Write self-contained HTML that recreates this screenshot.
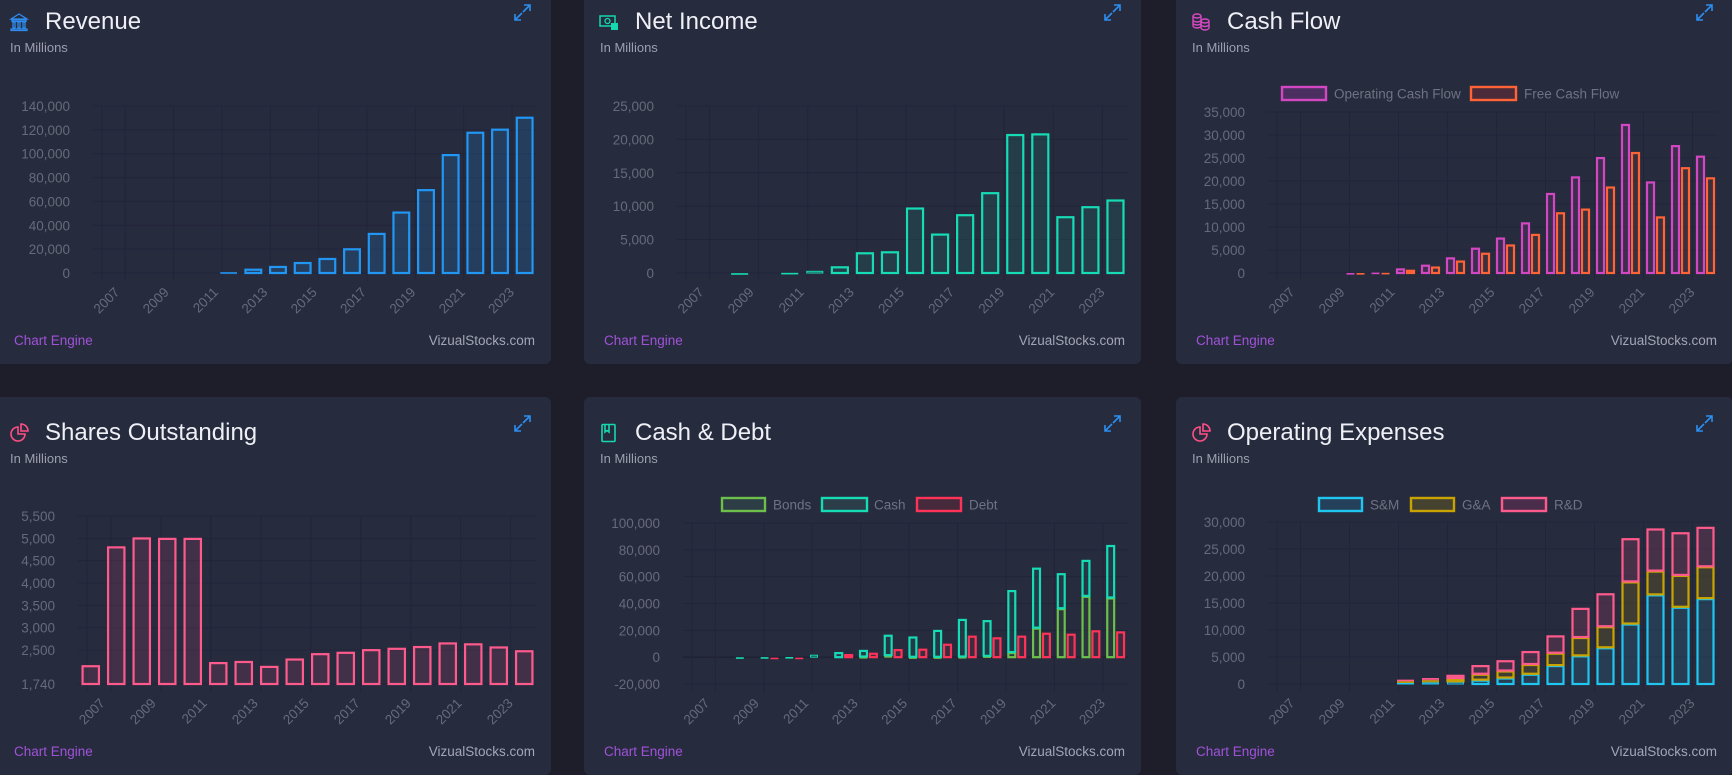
<!DOCTYPE html>
<html><head><meta charset="utf-8">
<style>
html,body{margin:0;padding:0;}
body{width:1732px;height:772px;background:#1d1e29;position:relative;overflow:hidden;font-family:"Liberation Sans",sans-serif;}
.card{position:absolute;width:557px;height:378px;background:#272b3e;border-radius:6px;overflow:hidden;}
.card svg.chart{position:absolute;left:0;top:0;}
.title{position:absolute;left:51px;top:21px;font-size:24px;color:#eef0f6;line-height:30px;white-space:nowrap;}
.sub{position:absolute;left:16px;top:54px;font-size:13px;color:#9c9fae;}
.card svg.icon{position:absolute;left:15px;top:26px;width:20px;height:20px;}
.card svg.exp{position:absolute;left:520px;top:18px;width:17px;height:17px;z-index:2;}
.fl{position:absolute;left:20px;top:347px;font-size:13.5px;color:#a052d8;}
.fr{position:absolute;right:16px;top:347px;font-size:13.5px;color:#a3a6b6;}
</style></head>
<body>

<div class="card" style="left:-6px;top:-14px">
  <svg class="icon" viewBox="0 0 20 20"><path d="M2 7 L10 2 L18 7 Z M3 8h14v1.5H3z M4 10h2v6H4z M9 10h2v6H9z M14 10h2v6h-2z M2 17h16v1.5H2z" fill="none" stroke="#2f8cf0" stroke-width="1.3"/></svg>
  <div class="title">Revenue</div>
  <div class="sub">In Millions</div>
  <svg class="exp" viewBox="0 0 17 17"><path d="M10 1h6v6M16 1L9 8M7 16H1v-6M1 16l7-7" fill="none" stroke="#2b8ef0" stroke-width="1.6"/></svg>
  <svg id="c1" class="chart" width="557" height="378"></svg>
  <div class="fl">Chart Engine</div>
  <div class="fr">VizualStocks.com</div>
</div>

<div class="card" style="left:584px;top:-14px">
  <svg class="icon" viewBox="0 0 20 20"><rect x="1" y="4" width="15" height="10" fill="none" stroke="#14d8b0" stroke-width="1.5"/><circle cx="8.5" cy="9" r="2.5" fill="none" stroke="#14d8b0" stroke-width="1.3"/><rect x="12" y="11" width="7" height="7" fill="#14d8b0"/></svg>
  <div class="title">Net Income</div>
  <div class="sub">In Millions</div>
  <svg class="exp" viewBox="0 0 17 17"><path d="M10 1h6v6M16 1L9 8M7 16H1v-6M1 16l7-7" fill="none" stroke="#2b8ef0" stroke-width="1.6"/></svg>
  <svg id="c2" class="chart" width="557" height="378"></svg>
  <div class="fl">Chart Engine</div>
  <div class="fr">VizualStocks.com</div>
</div>

<div class="card" style="left:1176px;top:-14px">
  <svg class="icon" viewBox="0 0 20 20"><g fill="none" stroke="#d649c0" stroke-width="1.4"><ellipse cx="6" cy="4" rx="4" ry="2"/><path d="M2 4v10c0 1 2 2 4 2s4-1 4-2V4M2 8c0 1 2 2 4 2s4-1 4-2M2 11c0 1 2 2 4 2s4-1 4-2"/><ellipse cx="14" cy="9" rx="4" ry="2"/><path d="M10 9v7c0 1 2 2 4 2s4-1 4-2V9M10 12.5c0 1 2 2 4 2s4-1 4-2"/></g></svg>
  <div class="title">Cash Flow</div>
  <div class="sub">In Millions</div>
  <svg class="exp" viewBox="0 0 17 17"><path d="M10 1h6v6M16 1L9 8M7 16H1v-6M1 16l7-7" fill="none" stroke="#2b8ef0" stroke-width="1.6"/></svg>
  <svg id="c3" class="chart" width="557" height="378"></svg>
  <div class="fl">Chart Engine</div>
  <div class="fr">VizualStocks.com</div>
</div>

<div class="card" style="left:-6px;top:397px">
  <svg class="icon" viewBox="0 0 20 20"><g fill="none" stroke="#ff4f86" stroke-width="1.6"><path d="M9 4a7 7 0 1 0 7 7H9z"/><path d="M12 1a7 7 0 0 1 7 7h-7z"/></g></svg>
  <div class="title">Shares Outstanding</div>
  <div class="sub">In Millions</div>
  <svg class="exp" viewBox="0 0 17 17"><path d="M10 1h6v6M16 1L9 8M7 16H1v-6M1 16l7-7" fill="none" stroke="#2b8ef0" stroke-width="1.6"/></svg>
  <svg id="c4" class="chart" width="557" height="378"></svg>
  <div class="fl">Chart Engine</div>
  <div class="fr">VizualStocks.com</div>
</div>

<div class="card" style="left:584px;top:397px">
  <svg class="icon" viewBox="0 0 20 20"><g fill="none" stroke="#14d8b0" stroke-width="1.6"><rect x="3" y="1.5" width="13" height="17" rx="1"/><path d="M6 2v7l2-1.5L10 9V2"/></g></svg>
  <div class="title">Cash &amp; Debt</div>
  <div class="sub">In Millions</div>
  <svg class="exp" viewBox="0 0 17 17"><path d="M10 1h6v6M16 1L9 8M7 16H1v-6M1 16l7-7" fill="none" stroke="#2b8ef0" stroke-width="1.6"/></svg>
  <svg id="c5" class="chart" width="557" height="378"></svg>
  <div class="fl">Chart Engine</div>
  <div class="fr">VizualStocks.com</div>
</div>

<div class="card" style="left:1176px;top:397px">
  <svg class="icon" viewBox="0 0 20 20"><g fill="none" stroke="#ff4f86" stroke-width="1.6"><path d="M9 4a7 7 0 1 0 7 7H9z"/><path d="M12 1a7 7 0 0 1 7 7h-7z"/></g></svg>
  <div class="title">Operating Expenses</div>
  <div class="sub">In Millions</div>
  <svg class="exp" viewBox="0 0 17 17"><path d="M10 1h6v6M16 1L9 8M7 16H1v-6M1 16l7-7" fill="none" stroke="#2b8ef0" stroke-width="1.6"/></svg>
  <svg id="c6" class="chart" width="557" height="378"></svg>
  <div class="fl">Chart Engine</div>
  <div class="fr">VizualStocks.com</div>
</div>

<script>
const years = ["2007","2008","2009","2010","2011","2012","2013","2014","2015","2016","2017","2018","2019","2020","2021","2022","2023","2024"];
const revenue = [0,0,0,0,0,1100,3600,5900,9200,12600,20700,33600,51500,70300,99700,118400,121000,131000];
const netIncome = [0,0,50,0,100,400,1000,3100,3250,9800,5900,8800,12100,20800,20900,8500,10000,11000];
const operatingCashFlow = [0,0,50,100,200,1000,1800,3400,5500,7700,11000,17400,21000,25200,32400,19900,27800,25500];
const freeCashFlow = [0,0,30,100,150,700,1400,2700,4400,6200,8500,13200,14000,18800,26300,12300,23000,20800];
const sharesOutstanding = [2160,4820,5020,5010,5010,2230,2255,2145,2310,2430,2460,2520,2550,2590,2670,2650,2580,2495];
const bonds = [0,0,0,0,0,0,0,500,1500,300,300,500,1000,3800,22000,36500,45700,44500];
const cash = [0,200,300,400,500,2200,3800,4900,15200,15100,20000,28000,26600,46200,44700,26100,26800,39100];
const debt = [0,0,0,-300,-300,-200,2300,3300,6000,6300,10000,16000,14800,16000,18200,17500,20000,19200];
const salesMarketing = [0,0,0,20,50,300,400,500,800,1200,1900,3500,5300,6800,11200,16600,14300,15900];
const generalAdmin = [0,0,0,15,30,300,400,600,1100,1300,1800,2300,3400,3900,7800,4400,5900,5900];
const researchDev = [0,0,0,15,40,300,400,600,1600,1900,2400,3200,5400,6100,8000,7800,7900,7300];

const ticksRevenue = [0,20000,40000,60000,80000,100000,120000,140000];
const ticksNetIncome = [0,5000,10000,15000,20000,25000];
const ticksCashFlow = [0,5000,10000,15000,20000,25000,30000,35000];
const ticksShares = [1740,2500,3000,3500,4000,4500,5000,5500];
const ticksCashDebt = [-20000,0,20000,40000,60000,80000,100000];
const ticksOpex = [0,5000,10000,15000,20000,25000,30000];

const NS = "http://www.w3.org/2000/svg";
function mk(tag, attrs, parent){
  const e = document.createElementNS(NS, tag);
  for (const k in attrs) e.setAttribute(k, attrs[k]);
  parent.appendChild(e);
  return e;
}
function fmt(v){ return v.toLocaleString('en-US'); }

function drawChart(id, o){
  const svg = document.getElementById(id);
  const n = years.length;
  const band = (o.right - o.left) / n;
  const yS = v => o.bottom - (v - o.min) / (o.max - o.min) * (o.bottom - o.top);
  const xC = i => o.left + band * (i + 0.5);
  o.ticks.forEach(t => {
    const y = yS(t);
    const g = mk('line', {x1:o.left, x2:o.right, y1:y, y2:y, stroke: t===0 && o.min<0 ? '#1c1f2e' : '#22253a', 'stroke-width':1}, svg);
    
    
    const tx = mk('text', {x:o.left-23, y:y+5, 'text-anchor':'end', 'font-size':'13.5', fill:'#676a7a', 'font-family':'Liberation Sans, sans-serif'}, svg);
    tx.textContent = fmt(t);
    
    
  });
  const gl = mk('line', {x1:o.left+9, x2:o.left+9, y1:o.top, y2:o.bottom+8, stroke:'#22253a'}, svg);
  
  
  for (let i = 1; i < n; i += 2){
    const x = o.left + 14 + (i - 0.5) * band * 0.98 + band*0.25;
    const l = mk('line', {x1:x, x2:x, y1:o.top, y2:o.bottom+8, stroke:'#22253a'}, svg);
    
    
  }
  for (let i = 0; i < n; i += 2){
    const px = xC(i) + 15, py = o.bottom + 20;
    const t = mk('text', {x:px, y:py, 'text-anchor':'end', 'font-size':'13.5', fill:'#676a7a', 'font-family':'Liberation Sans, sans-serif', transform:'rotate(-45 '+px+' '+py+')'}, svg);
    t.textContent = years[i];
    
    
  }
  const stacks = [];
  o.datasets.forEach(d => { if (stacks.indexOf(d.stack) < 0) stacks.push(d.stack); });
  const groupW = band * 0.8;
  const slotW = groupW / stacks.length;
  const barW = slotW * 0.9;
  const base0 = Math.max(o.min, 0);
  const posAcc = {}, negAcc = {};
  stacks.forEach(s => { posAcc[s] = new Array(n).fill(base0); negAcc[s] = new Array(n).fill(base0); });
  o.datasets.forEach(d => {
    const k = stacks.indexOf(d.stack);
    d.values.forEach((v, i) => {
      let b0, b1;
      if (v >= 0){ b0 = posAcc[d.stack][i]; b1 = b0 + (o.min > 0 ? v - o.min : v); posAcc[d.stack][i] = b1; }
      else { b0 = negAcc[d.stack][i]; b1 = b0 + v; negAcc[d.stack][i] = b1; }
      if (o.min > 0){ b0 = o.min; b1 = v; }
      const x = xC(i) - groupW/2 + slotW*(k+0.5) - barW/2;
      const ya = yS(b0), yb = yS(b1);
      const top = Math.min(ya, yb), h = Math.abs(ya - yb);
      if (h < 0.3) return;
      const r = mk('rect', {x:x+1, y:top+1, width:Math.max(barW-2,0.5), height:Math.max(h-1,0.6), fill:d.fill, stroke:d.stroke, 'stroke-width': h>3 ? 2.2 : 1}, svg);
      
      
    });
  });
  if (o.legend){
    o.legend.forEach((L, j) => {
      const d = o.datasets[j];
      const r = mk('rect', {x:L[0]+1, y:101, width:L[1]-L[0]-2, height:13, fill:d.legendFill, stroke:d.stroke, 'stroke-width':2.4}, svg);
      
      
      const t = mk('text', {x:L[2], y:112.5, 'font-size':'13.5', fill:'#6f7282', 'font-family':'Liberation Sans, sans-serif'}, svg);
      t.textContent = d.label;
      
      
    });
  }
}

drawChart('c1', {left:99, right:543, top:120, bottom:287, min:0, max:140000, ticks:ticksRevenue,
  datasets:[{name:'revenue', values:revenue, stroke:'#2196f3', fill:'rgba(33,150,243,0.18)', stack:'a'}]});
drawChart('c2', {left:93, right:544, top:120, bottom:287, min:0, max:25000, ticks:ticksNetIncome,
  datasets:[{name:'net-income', values:netIncome, stroke:'#15dcb4', fill:'rgba(21,220,180,0.1)', stack:'a'}]});
drawChart('c3', {left:92, right:542, top:126, bottom:287, min:0, max:35000, ticks:ticksCashFlow,
  datasets:[{name:'operating-cash-flow', label:'Operating Cash Flow', values:operatingCashFlow, stroke:'#d447c2', fill:'rgba(212,71,194,0.12)', legendFill:'#4a2f60', stack:'a'},
            {name:'free-cash-flow', label:'Free Cash Flow', values:freeCashFlow, stroke:'#ff6336', fill:'rgba(255,99,54,0.1)', legendFill:'#4b2b3a', stack:'b'}],
  legend:[[105,151,158],[294,341,348]]});
drawChart('c4', {left:84, right:543, top:119, bottom:287, min:1740, max:5500, ticks:ticksShares,
  datasets:[{name:'shares', values:sharesOutstanding, stroke:'#ff5a8c', fill:'rgba(255,90,140,0.12)', stack:'a'}]});
drawChart('c5', {left:99, right:544, top:126, bottom:287, min:-20000, max:100000, ticks:ticksCashDebt,
  datasets:[{name:'bonds', label:'Bonds', values:bonds, stroke:'#6bbf4a', fill:'rgba(107,191,74,0.08)', legendFill:'#2d3d45', stack:'a'},
            {name:'cash', label:'Cash', values:cash, stroke:'#15dcb4', fill:'rgba(21,220,180,0.08)', legendFill:'#2a3d48', stack:'a'},
            {name:'debt', label:'Debt', values:debt, stroke:'#ff3358', fill:'rgba(255,51,88,0.1)', legendFill:'#462a3c', stack:'b'}],
  legend:[[137,182,189],[237,284,290],[332,378,385]]});
drawChart('c6', {left:92, right:542, top:125, bottom:287, min:0, max:30000, ticks:ticksOpex,
  datasets:[{name:'sales-marketing', label:'S&M', values:salesMarketing, stroke:'#1ec6f0', fill:'rgba(30,198,240,0.12)', legendFill:'#25405a', stack:'a'},
            {name:'general-admin', label:'G&A', values:generalAdmin, stroke:'#c9a400', fill:'rgba(201,164,0,0.15)', legendFill:'#45422f', stack:'a'},
            {name:'research-dev', label:'R&D', values:researchDev, stroke:'#ff5a8c', fill:'rgba(255,90,140,0.15)', legendFill:'#4a2d4a', stack:'a'}],
  legend:[[142,187,194],[234,279,286],[325,371,378]]});
</script>
</body></html>
